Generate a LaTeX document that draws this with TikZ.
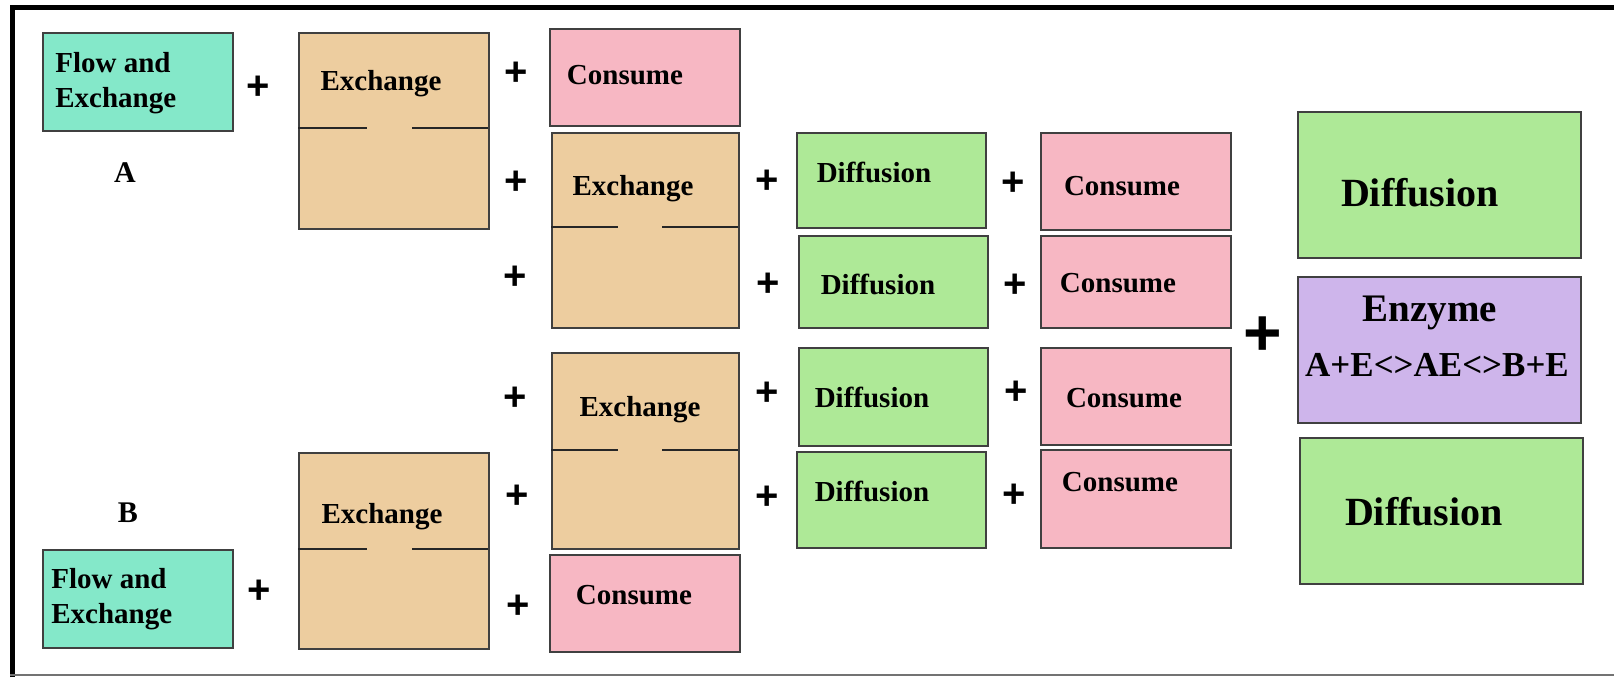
\documentclass[tikz,border=0pt]{standalone}
\usepackage{fontspec}
\setmainfont{Liberation Serif}
\newfontfamily\plusfont{Liberation Sans}
\usepackage{tikz}
\usetikzlibrary{positioning}

\definecolor{flowcol}{HTML}{84E8C9}
\definecolor{exchcol}{HTML}{EDCD9F}
\definecolor{conscol}{HTML}{F7B7C3}
\definecolor{diffcol}{HTML}{AEE997}
\definecolor{enzcol}{HTML}{CEB5EB}

\begin{document}
\begin{tikzpicture}[x=0.5pt,y=-0.5pt]
\tikzstyle{box}=[draw=black!75,line width=0.8pt,inner sep=0pt,anchor=north west]
\tikzstyle{flow}=[box,fill=flowcol,minimum width=95pt,minimum height=49pt]
\tikzstyle{exch}=[box,fill=exchcol,minimum width=95pt,minimum height=98pt]
\tikzstyle{cons}=[box,fill=conscol,minimum width=95pt,minimum height=48.5pt]
\tikzstyle{diff}=[box,fill=diffcol,minimum width=94.5pt,minimum height=47.5pt]
\tikzstyle{bigbox}=[box,minimum width=141.5pt,minimum height=73pt]
\tikzstyle{txt}=[inner sep=0pt,text height=9.5pt,text depth=0pt,
  font=\bfseries\fontsize{14.5}{17.5}\selectfont]
\tikzstyle{bigtxt}=[inner sep=0pt,text height=13pt,text depth=0pt,
  font=\bfseries\fontsize{20}{24}\selectfont]
\tikzstyle{plus}=[inner sep=0pt,font=\plusfont\bfseries\fontsize{20}{20}\selectfont]
\tikzstyle{divider}=[draw=black!85,line width=1pt]

\useasboundingbox (0,0) rectangle (1614,677);

% frame
\draw[line width=2.5pt] (12.5,677) -- (12.5,7.5) -- (1614,7.5);
\draw[black!55,line width=1pt] (10,675) -- (1614,675);

% part A
\node[flow] (flowA) at (42,32) {};
\node[txt,text height=,text depth=,align=left,anchor=west] (flowAt) at (55,83) {Flow and\\Exchange};
\node[txt,font=\bfseries\fontsize{15}{18}\selectfont] (lblA) at (125,173) {A};
\node[exch] (exA) at (298,32) {};
\node[txt] (exAt) at (381,81) {Exchange};
\draw[divider] (298,128) -- (367,128);
\draw[divider] (412,128) -- (488,128);
\node[cons] (conT) at (549,28) {};
\node[txt] (conTt) at (625,75) {Consume};

% upper middle
\node[exch,minimum width=93.5pt,minimum height=97.5pt] (ex2) at (551,132) {};
\node[txt] (ex2t) at (633,186) {Exchange};
\draw[divider] (551,227) -- (618,227);
\draw[divider] (662,227) -- (738,227);
\node[diff] (dif1) at (796,132) {};
\node[txt] (dif1t) at (874,173) {Diffusion};
\node[cons] (con1) at (1040,132) {};
\node[txt] (con1t) at (1122,186) {Consume};
\node[diff,minimum height=46pt] (dif2) at (798,235) {};
\node[txt] (dif2t) at (878,285) {Diffusion};
\node[cons,minimum height=46pt] (con2) at (1040,235) {};
\node[txt] (con2t) at (1118,283) {Consume};

% lower middle
\node[exch,minimum width=93.5pt] (ex3) at (551,352) {};
\node[txt] (ex3t) at (640,407) {Exchange};
\draw[divider] (551,450) -- (618,450);
\draw[divider] (662,450) -- (738,450);
\node[diff,minimum height=49pt] (dif3) at (798,347) {};
\node[txt] (dif3t) at (872,398) {Diffusion};
\node[cons] (con3) at (1040,347) {};
\node[txt] (con3t) at (1124,398) {Consume};
\node[diff,minimum height=48pt] (dif4) at (796,451) {};
\node[txt] (dif4t) at (872,492) {Diffusion};
\node[cons,minimum height=49pt] (con4) at (1040,449) {};
\node[txt] (con4t) at (1120,482) {Consume};

% part B
\node[txt,font=\bfseries\fontsize{15}{18}\selectfont] (lblB) at (128,513) {B};
\node[flow] (flowB) at (42,549) {};
\node[txt,text height=,text depth=,align=left,anchor=west] (flowBt) at (51,599) {Flow and\\Exchange};
\node[exch] (exB) at (298,452) {};
\node[txt] (exBt) at (382,514) {Exchange};
\draw[divider] (298,549) -- (367,549);
\draw[divider] (412,549) -- (488,549);
\node[cons] (conB) at (549,554) {};
\node[txt] (conBt) at (634,595) {Consume};

% right column
\node[bigbox,fill=diffcol] (bdifT) at (1297,111) {};
\node[bigtxt] (bdifTt) at (1420,193) {Diffusion};
\node[bigbox,fill=enzcol] (enz) at (1297,276) {};
\node[bigtxt,font=\bfseries\fontsize{19.5}{24}\selectfont] (enzt) at (1430,308) {Enzyme};
\node[txt,font=\bfseries\fontsize{17.5}{21}\selectfont,text height=11.5pt] (rxt) at (1437,365) {A+E<>AE<>B+E};
\node[bigbox,fill=diffcol] (bdifB) at (1299,437) {};
\node[bigtxt] (bdifBt) at (1424,512) {Diffusion};

% plus signs
\node[plus] (p1) at (258,88) {+};
\node[plus] (p2) at (516,74) {+};
\node[plus] (p3) at (516,183) {+};
\node[plus] (p4) at (767,182) {+};
\node[plus] (p5) at (1013,184) {+};
\node[plus] (p6) at (515,278) {+};
\node[plus] (p7) at (768,285) {+};
\node[plus] (p8) at (1015,286) {+};
\node[plus] (p9) at (515,399) {+};
\node[plus] (p10) at (767,394) {+};
\node[plus] (p11) at (1016,393) {+};
\node[plus] (p12) at (517,497) {+};
\node[plus] (p13) at (767,498) {+};
\node[plus] (p14) at (1014,496) {+};
\node[plus] (p15) at (259,592) {+};
\node[plus] (p16) at (518,607) {+};
\node[plus,font=\plusfont\bfseries\fontsize{33}{33}\selectfont] (pbig) at (1263,336) {+};
\end{tikzpicture}
\end{document}
